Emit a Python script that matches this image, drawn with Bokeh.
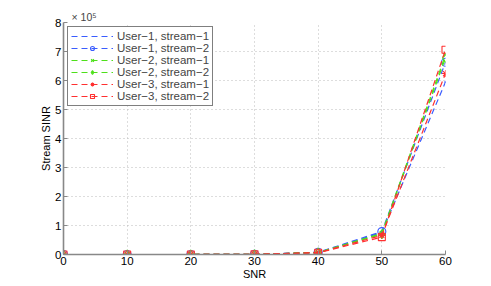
from bokeh.plotting import figure
from bokeh.models import Legend, LegendItem, FixedTicker, Range1d
from bokeh.embed import file_html
from bokeh.resources import INLINE

snr = [0, 10, 20, 30, 40, 50, 60]
u1s1 = [0.6, 6.1, 61, 610, 6300, 76000, 595000]
u1s2 = [0.7, 6.8, 69, 690, 7600, 79000, 663000]
u2s1 = [0.7, 6.6, 66, 660, 6900, 73000, 688000]
u2s2 = [0.6, 6.4, 64, 650, 6800, 70000, 678000]
u3s1 = [0.6, 6.0, 60, 620, 6200, 66000, 624000]
u3s2 = [0.6, 5.9, 58, 600, 6000, 60000, 706000]
labels = ["User−1, stream−1", "User−1, stream−2", "User−2, stream−1",
          "User−2, stream−2", "User−3, stream−1", "User−3, stream−2"]
y_ticks = [0, 100000, 200000, 300000, 400000, 500000, 600000, 700000, 800000]
y_tick_labels = ["0", "1", "2", "3", "4", "5", "6", "7", "8"]
x_ticks = [0, 10, 20, 30, 40, 50, 60]

series = [u1s1, u1s2, u2s1, u2s2, u3s1, u3s2]
colors = ["#3a5cff", "#3a5cff", "#4ee01a", "#4ee01a", "#ff3030", "#ff3030"]
markers = ["dot", "circle", "x", "diamond", "asterisk", "square"]
msizes = [9, 8, 6, 9, 7, 7]

FONT = "Liberation Sans"

p = figure(width=491, height=286, output_backend="svg", toolbar_location=None,
           x_range=Range1d(0, 60), y_range=Range1d(0, 800000),
           min_border_left=63, min_border_right=46, min_border_top=22, min_border_bottom=32,
           title="× 10⁵")
p.outline_line_color = None
p.title.text_font = FONT
p.title.text_font_size = "10.5px"
p.title.text_font_style = "normal"
p.title.align = "left"
p.title.offset = 8
p.title.standoff = 0

items = []
for ys, c, m, ms, lab in zip(series, colors, markers, msizes, labels):
    r1 = p.line(snr, ys, line_color=c, line_width=1.2, line_dash="6 4")
    r2 = p.scatter(snr, ys, marker=m, size=ms, line_color=c, fill_color=None, line_width=1.1)
    items.append(LegendItem(label=lab, renderers=[r1, r2]))

leg = Legend(items=items, location="top_left")
leg.label_text_font = FONT
leg.label_text_font_size = "11.5px"
leg.label_height = 10
leg.glyph_height = 10
leg.glyph_width = 42
leg.spacing = -3
leg.padding = 3
leg.margin = 4
leg.label_standoff = 4
leg.border_line_color = "black"
leg.border_line_width = 0.8
leg.background_fill_alpha = 1
p.add_layout(leg)

for ax in (p.xaxis[0], p.yaxis[0]):
    ax.axis_line_color = "#888888"
    ax.axis_line_width = 1.6
    ax.major_tick_in = 4
    ax.major_tick_out = 0
    ax.major_tick_line_color = "#888888"
    ax.minor_tick_line_color = None
    ax.major_label_text_font = FONT
    ax.major_label_text_font_size = "11.5px"
    ax.major_label_text_color = "black"
    ax.axis_label_text_font = FONT
    ax.axis_label_text_font_size = "11px"
    ax.axis_label_text_font_style = "normal"
    ax.axis_label_text_color = "black"
    ax.major_label_standoff = 2
    ax.axis_label_standoff = 0

p.xaxis.ticker = FixedTicker(ticks=x_ticks)
p.yaxis.ticker = FixedTicker(ticks=y_ticks)
p.yaxis.major_label_overrides = {t: s for t, s in zip(y_ticks, y_tick_labels)}
p.xaxis.axis_label = "SNR"
p.yaxis.axis_label = "Stream SINR"

p.grid.grid_line_color = "#bbbbbb"
p.grid.grid_line_dash = "1 3"
p.grid.grid_line_width = 1

open("out.html", "w").write(file_html(p, INLINE))
